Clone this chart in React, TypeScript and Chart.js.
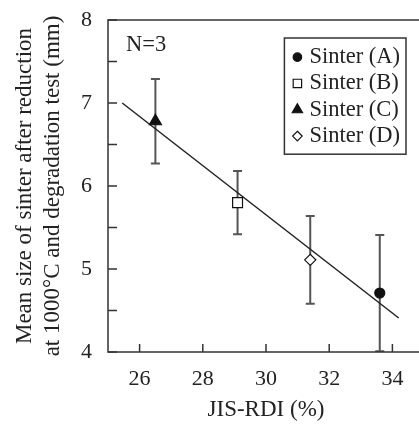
import React, { useEffect, useRef } from 'react';
import { Chart, registerables } from 'chart.js';

Chart.register(...registerables);

// ---- data ----
const sinterLabels = ['Sinter (A)', 'Sinter (B)', 'Sinter (C)', 'Sinter (D)'];
const jisRdi = [33.6, 29.1, 26.5, 31.4];
const meanSize = [4.71, 5.8, 6.78, 5.11];
const sizeError = [0.7, 0.38, 0.51, 0.53];
const fitX = [25.45, 34.2];
const fitY = [7.0, 4.41];
const xTicks = [26, 28, 30, 32, 34];
const yTicks = [4, 4.5, 5, 5.5, 6, 6.5, 7, 7.5, 8];
const sampleNote = 'N=3';
const xTitle = 'JIS-RDI (%)';
const yTitle = ['Mean size of sinter after reduction', 'at 1000°C and degradation test (mm)'];

// ---- styles ----
const pointStyles = ['circle', 'rect', 'triangle', 'rectRot'];
const pointFills = ['#111', '#fff', '#111', '#fff'];
const pointRadii = [5, 7, 7, 5.6];
const FONT = "'Liberation Serif', 'Times New Roman', serif";
const INK = '#222';

function drawMarker(ctx: CanvasRenderingContext2D, style: string, x: number, y: number, r: number) {
  ctx.beginPath();
  if (style === 'circle') {
    ctx.arc(x, y, r, 0, Math.PI * 2);
  } else if (style === 'rect') {
    const s = r * Math.SQRT1_2;
    ctx.rect(x - s, y - s, 2 * s, 2 * s);
  } else if (style === 'triangle') {
    ctx.moveTo(x, y - r);
    ctx.lineTo(x + r * Math.sin((2 * Math.PI) / 3), y - r * Math.cos((2 * Math.PI) / 3));
    ctx.lineTo(x + r * Math.sin((4 * Math.PI) / 3), y - r * Math.cos((4 * Math.PI) / 3));
    ctx.closePath();
  } else {
    ctx.moveTo(x, y - r);
    ctx.lineTo(x + r, y);
    ctx.lineTo(x, y + r);
    ctx.lineTo(x - r, y);
    ctx.closePath();
  }
  ctx.fill();
  ctx.stroke();
}

const decorPlugin = {
  id: 'decor',
  beforeDatasetsDraw(chart: any) {
    const { ctx, chartArea: ca, scales } = chart;
    const x = scales.x;
    const y = scales.y;
    ctx.save();
    ctx.beginPath();
    ctx.rect(ca.left, ca.top, ca.right - ca.left, ca.bottom - ca.top);
    ctx.clip();
    ctx.strokeStyle = '#555';
    ctx.lineWidth = 2;
    jisRdi.forEach((xv, i) => {
      const px = x.getPixelForValue(xv);
      const top = y.getPixelForValue(meanSize[i] + sizeError[i]);
      const bot = y.getPixelForValue(meanSize[i] - sizeError[i]);
      ctx.beginPath();
      ctx.moveTo(px, top);
      ctx.lineTo(px, bot);
      ctx.moveTo(px - 4.5, top);
      ctx.lineTo(px + 4.5, top);
      ctx.moveTo(px - 4.5, bot);
      ctx.lineTo(px + 4.5, bot);
      ctx.stroke();
    });
    ctx.restore();
  },
  afterDraw(chart: any) {
    const { ctx, chartArea: ca, scales } = chart;
    const x = scales.x;
    const y = scales.y;
    ctx.save();
    // frame
    ctx.strokeStyle = '#333';
    ctx.lineWidth = 1.5;
    ctx.strokeRect(ca.left, ca.top, ca.right - ca.left, ca.bottom - ca.top);
    // inward ticks
    ctx.beginPath();
    y.ticks.forEach((t: any) => {
      const py = y.getPixelForValue(t.value);
      ctx.moveTo(ca.left, py);
      ctx.lineTo(ca.left + 9, py);
    });
    x.ticks.forEach((t: any) => {
      const px = x.getPixelForValue(t.value);
      ctx.moveTo(px, ca.bottom);
      ctx.lineTo(px, ca.bottom - 8);
    });
    ctx.stroke();

    // N=3 note
    ctx.font = `22.5px ${FONT}`;
    ctx.fillStyle = INK;
    ctx.textBaseline = 'middle';
    ctx.textAlign = 'left';
    ctx.fillText(sampleNote, ca.left + 18, ca.top + 25);

    // legend box
    const rowH = 26.3;
    const textW = Math.max(...sinterLabels.map((l) => ctx.measureText(l).width));
    const boxW = 13 + 12 + textW + 6;
    const boxH = rowH * sinterLabels.length + 11;
    const boxRight = ca.right - 18;
    const boxLeft = boxRight - boxW;
    const boxTop = ca.top + 18;
    ctx.fillStyle = '#fff';
    ctx.fillRect(boxLeft, boxTop, boxW, boxH);
    ctx.strokeStyle = '#333';
    ctx.lineWidth = 1.5;
    ctx.strokeRect(boxLeft, boxTop, boxW, boxH);
    sinterLabels.forEach((label, i) => {
      const cy = boxTop + 6 + rowH * (i + 0.5);
      const mx = boxLeft + 13;
      const ds = chart.data.datasets[i];
      ctx.fillStyle = ds.backgroundColor;
      ctx.strokeStyle = ds.borderColor;
      ctx.lineWidth = 1.2;
      drawMarker(ctx, pointStyles[i], mx, cy, pointRadii[i] * 0.85);
      ctx.fillStyle = INK;
      ctx.fillText(label, boxLeft + 25, cy);
    });
    ctx.restore();
  },
};

export default function App() {
  const ref = useRef<HTMLCanvasElement>(null);
  useEffect(() => {
    if (!ref.current) return;
    const tickFont = { family: FONT, size: 22 };
    const chart = new Chart(ref.current, {
      type: 'scatter',
      data: {
        datasets: [
          ...sinterLabels.map((label, i) => ({
            label,
            data: [{ x: jisRdi[i], y: meanSize[i] }],
            pointStyle: pointStyles[i] as any,
            pointRadius: pointRadii[i],
            backgroundColor: pointFills[i],
            borderColor: '#111',
            borderWidth: 1.2,
            order: 0,
          })),
          {
            type: 'line' as const,
            label: 'fit',
            data: fitX.map((xv, i) => ({ x: xv, y: fitY[i] })),
            borderColor: '#222',
            borderWidth: 1.5,
            pointRadius: 0,
            showLine: true,
            fill: false,
            order: 10,
          } as any,
        ],
      },
      options: {
        responsive: false,
        animation: false,
        layout: { padding: { top: 20, right: 16, left: 0, bottom: 0 } },
        plugins: { legend: { display: false }, tooltip: { enabled: false } },
        scales: {
          x: {
            type: 'linear',
            min: 25,
            max: 35,
            afterBuildTicks: (s: any) => {
              s.ticks = xTicks.map((v) => ({ value: v }));
            },
            afterFit: (s: any) => {
              s.height = 72;
              s.paddingLeft = 0;
              s.paddingRight = 0;
              s.paddingTop = 0;
              s.paddingBottom = 0;
            },
            grid: { display: false, drawTicks: false },
            border: { display: false },
            ticks: { font: tickFont, color: INK, padding: 14, maxRotation: 0, autoSkip: false },
            title: {
              display: true,
              text: xTitle,
              font: { family: FONT, size: 23, lineHeight: 1.2 },
              color: INK,
              padding: { top: 0, bottom: 0 },
            },
          },
          y: {
            type: 'linear',
            min: 4,
            max: 8,
            afterBuildTicks: (s: any) => {
              s.ticks = yTicks.map((v) => ({ value: v }));
            },
            afterFit: (s: any) => {
              s.width = 108;
              s.paddingLeft = 0;
              s.paddingRight = 0;
              s.paddingTop = 0;
              s.paddingBottom = 0;
            },
            grid: { display: false, drawTicks: false },
            border: { display: false },
            ticks: {
              font: tickFont,
              color: INK,
              padding: 16,
              autoSkip: false,
              callback: (v: any) => (Number.isInteger(v) ? String(v) : ''),
            },
            title: {
              display: true,
              text: yTitle,
              font: { family: FONT, size: 23, lineHeight: 28 / 23 },
              color: INK,
              padding: { top: 11, bottom: 0 },
            },
          },
        },
      },
      plugins: [decorPlugin],
    });
    return () => chart.destroy();
  }, []);
  return (
    <div
      style={{
        position: 'fixed',
        left: 0,
        top: 0,
        width: 419,
        height: 424,
        overflow: 'hidden',
        background: '#fff',
      }}
    >
      <canvas ref={ref} width={440} height={424} style={{ display: 'block' }} />
    </div>
  );
}
